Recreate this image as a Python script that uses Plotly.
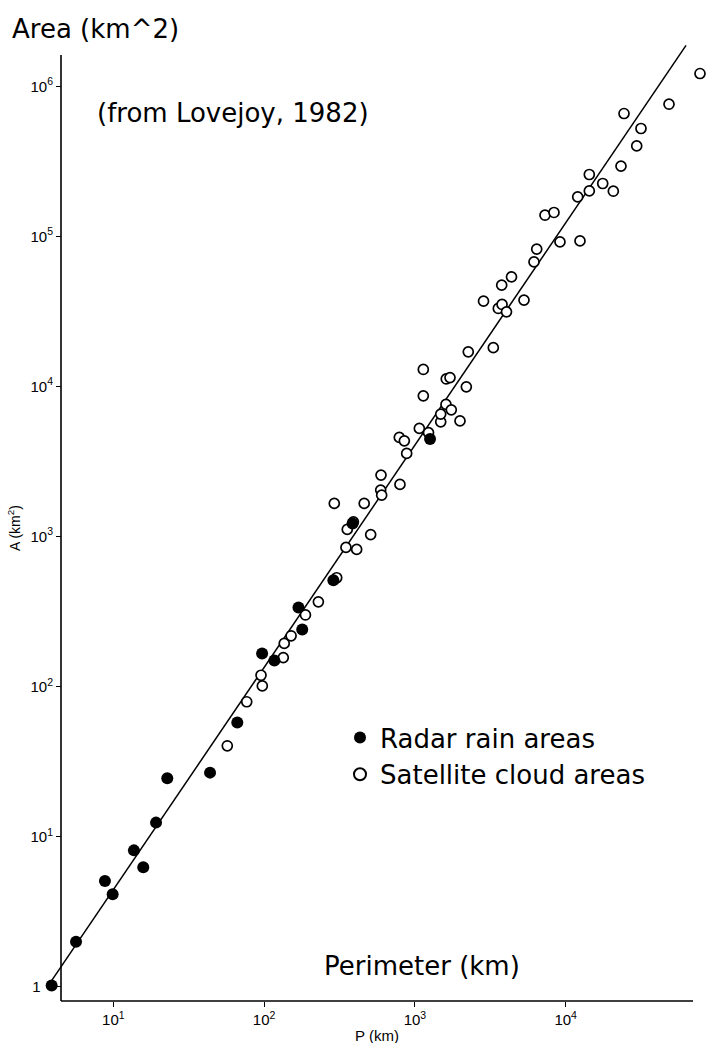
import numpy as np
import plotly.graph_objects as go

# Radar rain areas: perimeter P (km) and area A (km^2)
radar_perimeter = [3.9, 5.66, 8.8, 9.9, 13.7, 15.8, 19.2, 22.8, 43.8, 66.4,
                   97, 117, 169, 179, 288, 386, 1260]
radar_area = [1.02, 1.99, 5.06, 4.13, 8.1, 6.25, 12.4, 24.5, 26.7, 57.7,
              166, 149, 337, 240, 512, 1220, 4460]

# Satellite cloud areas: perimeter P (km) and area A (km^2)
sat_perimeter = [57.0, 76.7, 95.4, 97.3, 134, 136, 151, 188, 229, 303,
                 349, 411, 356, 391, 292, 461, 509, 596, 593, 602,
                 796, 882, 788, 851, 1070, 1231, 1137, 1137, 1483, 1483,
                 1607, 1743, 1991, 1614, 1709, 2193, 2259, 3311, 2851, 3763,
                 3573, 3784, 4050, 4371, 5290, 6163, 6423, 9162, 12440, 7290,
                 8363, 12010, 14340, 14340, 17600, 20690, 23260, 24360, 29570, 31570,
                 48420, 77720]
sat_area = [40.3, 79.2, 119, 101, 156, 194, 218, 300, 367, 531,
            846, 820, 1115, 1253, 1662, 1662, 1030, 2566, 2038, 1887,
            2224, 3578, 4574, 4341, 5252, 4923, 8658, 12980, 5810, 6540,
            7587, 6985, 5890, 11220, 11450, 9938, 17000, 18140, 37010, 47310,
            33090, 35180, 31410, 53700, 37580, 67610, 82170, 91920, 93330, 138400,
            144300, 183300, 201000, 258500, 225100, 200000, 293600, 658800, 400900, 523500,
            759900, 1217000]

# Power-law fit A = c * P^(2/D), with perimeter dimension D = 1.35
FIT_DIMENSION = 1.35
FIT_PREFACTOR = 0.146
fit_perimeter = np.array([3.92, 62800.0])
fit_area = FIT_PREFACTOR * fit_perimeter ** (2.0 / FIT_DIMENSION)

x_tickvals = [10, 100, 1000, 10000]
x_ticktext = ["10<sup>1</sup>", "10<sup>2</sup>", "10<sup>3</sup>", "10<sup>4</sup>"]
y_tickvals = [1, 10, 100, 1000, 10000, 100000, 1000000]
y_ticktext = ["1\u00a0\u00a0\u00a0", "10<sup>1</sup>", "10<sup>2</sup>", "10<sup>3</sup>",
              "10<sup>4</sup>", "10<sup>5</sup>", "10<sup>6</sup>"]

W, H = 707, 1043
ML, MR, MT, MB = 40, 0, 35, 42
plot_w = W - ML - MR
plot_h = H - MT - MB

# axis-line placement inside the plotting area (paper fractions)
y_axis_pos = 21 / plot_w
x_line_end = 653 / plot_w
y_line_top = 946 / plot_h

hand_font = "DejaVu Sans"
label_font = "Liberation Sans, Arial, sans-serif"
tick_font = dict(family=label_font, size=15, color="black")

fig = go.Figure()

fig.add_trace(go.Scatter(
    x=fit_perimeter, y=fit_area, mode="lines",
    line=dict(color="black", width=1.5),
    showlegend=False, hoverinfo="skip",
))
fig.add_trace(go.Scatter(
    x=sat_perimeter, y=sat_area, mode="markers",
    name="Satellite cloud areas",
    marker=dict(symbol="circle", size=10, color="white",
                line=dict(color="black", width=1.7)),
    cliponaxis=False,
))
fig.add_trace(go.Scatter(
    x=radar_perimeter, y=radar_area, mode="markers",
    name="Radar rain areas",
    marker=dict(symbol="circle", size=12, color="black",
                line=dict(color="black", width=0)),
    cliponaxis=False,
))

fig.update_layout(
    width=W, height=H,
    margin=dict(l=ML, r=MR, t=MT, b=MB),
    paper_bgcolor="white", plot_bgcolor="white",
    showlegend=True,
    legend=dict(
        x=(340 - ML) / plot_w, y=(H - MB - 714) / plot_h,
        xanchor="left", yanchor="top",
        traceorder="reversed",
        font=dict(family=hand_font, size=26, color="black"),
        bgcolor="rgba(0,0,0,0)", borderwidth=0,
        itemsizing="constant", tracegroupgap=0,
    ),
    xaxis=dict(
        type="log", range=[0.5139, 4.937],
        showgrid=False, zeroline=False, showline=False,
        ticks="outside", ticklen=5, tickwidth=1.2, tickcolor="black",
        tickvals=x_tickvals, ticktext=x_ticktext, tickfont=tick_font,
    ),
    yaxis=dict(
        type="log", range=[-0.0953, 6.342],
        anchor="free", position=y_axis_pos,
        showgrid=False, zeroline=False, showline=False,
        ticks="outside", ticklen=5, tickwidth=1.2, tickcolor="black",
        tickvals=y_tickvals, ticktext=y_ticktext, tickfont=tick_font,
    ),
    shapes=[
        dict(type="line", xref="paper", yref="paper",
             x0=y_axis_pos, x1=x_line_end, y0=0, y1=0,
             line=dict(color="black", width=1.6)),
        dict(type="line", xref="paper", yref="paper",
             x0=y_axis_pos, x1=y_axis_pos, y0=0, y1=y_line_top,
             line=dict(color="black", width=1.6)),
    ],
    annotations=[
        dict(text="Area (km^2)", xref="paper", yref="paper",
             x=(10 - ML) / plot_w, y=(H - MB - 29) / plot_h,
             xanchor="left", yanchor="middle", showarrow=False,
             font=dict(family=hand_font, size=26, color="black")),
        dict(text="(from Lovejoy, 1982)", xref="paper", yref="paper",
             x=(95 - ML) / plot_w, y=(H - MB - 113) / plot_h,
             xanchor="left", yanchor="middle", showarrow=False,
             font=dict(family=hand_font, size=26, color="black")),
        dict(text="Perimeter (km)", xref="paper", yref="paper",
             x=(322 - ML) / plot_w, y=(H - MB - 966) / plot_h,
             xanchor="left", yanchor="middle", showarrow=False,
             font=dict(family=hand_font, size=26, color="black")),
        dict(text="A (km<sup>2</sup>)", xref="paper", yref="paper",
             x=(14 - ML) / plot_w, y=(H - MB - 528) / plot_h,
             xanchor="center", yanchor="middle", textangle=-90, showarrow=False,
             font=dict(family=label_font, size=14, color="black")),
        dict(text="P (km)", xref="paper", yref="paper",
             x=(377 - ML) / plot_w, y=(H - MB - 1035) / plot_h,
             xanchor="center", yanchor="middle", showarrow=False,
             font=dict(family=label_font, size=15, color="black")),
    ],
)

fig.write_html("out.html")
